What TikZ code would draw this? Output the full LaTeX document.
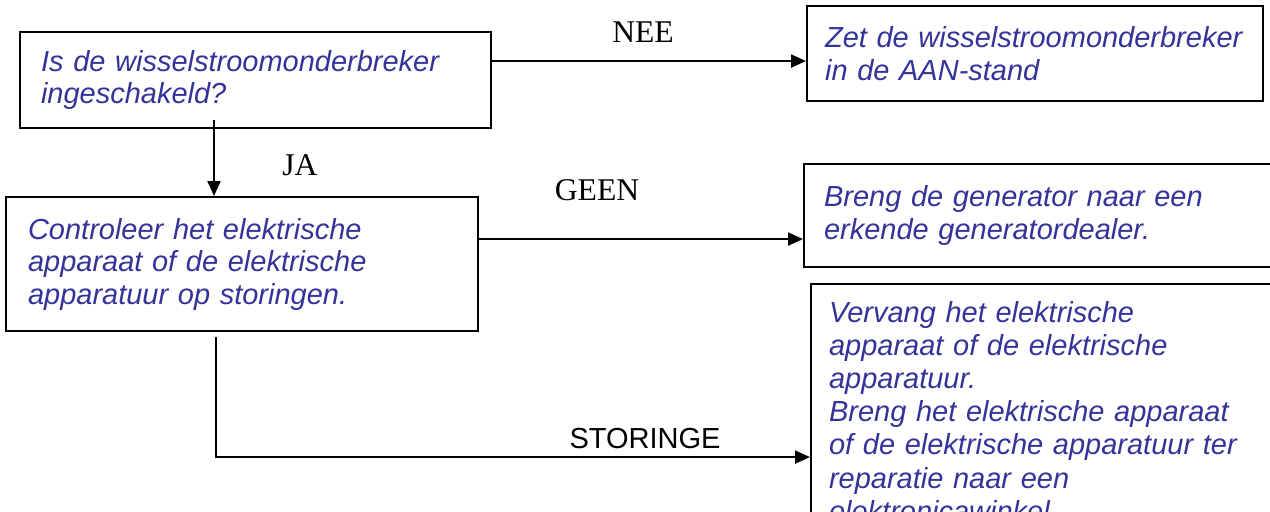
\documentclass[tikz,border=0pt]{standalone}
\usepackage{fontspec}
\setmainfont{Liberation Sans}
\newfontfamily\timesfont{Liberation Serif}
\usepackage{tikz}
\usetikzlibrary{arrows.meta}
\definecolor{tekstblauw}{RGB}{51,51,153}

\begin{document}
\begin{tikzpicture}[x=0.02cm,y=-0.02cm,
    vak/.style={draw, line width=1.2pt, anchor=north west, align=left, text=tekstblauw,
        font=\fontsize{16.5}{18.5}\selectfont\itshape, inner ysep=0pt},
    pijl/.style={line width=1.2pt, -{Triangle[length=0.3cm,width=0.26cm]}},
    antw/.style={font=\timesfont\fontsize{18}{20}\selectfont}]
    \clip (0,0) rectangle (1270,511);
    % vakken
    \node[vak, text width=8.58cm, inner xsep=0.42cm, minimum height=1.92cm] (vraag) at (19,31) {Is de wisselstroomonderbreker\\ingeschakeld?};
    \node[vak, text width=8.4cm, inner xsep=0.36cm, minimum height=1.9cm] (aan) at (806,5) {Zet de wisselstroomonderbreker\\in de AAN-stand};
    \node[vak, text width=8.56cm, inner xsep=0.44cm, minimum height=2.68cm] (controle) at (5,196) {Controleer het elektrische\\apparaat of de elektrische\\apparatuur op storingen.};
    \node[vak, text width=9.2cm, inner xsep=0.4cm, minimum height=2.06cm] (dealer) at (803,163) {Breng de generator naar een\\erkende generatordealer.};
    \node[vak, text width=9.2cm, inner xsep=0.36cm, inner ysep=0.34cm,
        font=\fontsize{16.5}{18.9}\selectfont\itshape] (vervang) at (810,283) {Vervang het elektrische\\apparaat of de elektrische\\apparatuur.\\Breng het elektrische apparaat\\of de elektrische apparatuur ter\\reparatie naar een\\elektronicawinkel.};
    % pijlen
    \coordinate (nee-start) at ([yshift=0.38cm]vraag.east);
    \draw[pijl] (nee-start) -- (nee-start -| aan.west);
    \coordinate (ja-start) at ([shift={(-0.83cm,0.18cm)}]vraag.south);
    \draw[pijl] (ja-start) -- (ja-start |- controle.north);
    \coordinate (geen-start) at ([yshift=0.5cm]controle.east);
    \draw[pijl] (geen-start) -- (geen-start -| dealer.west);
    \coordinate (storing-start) at ([shift={(-0.52cm,-0.1cm)}]controle.south);
    \coordinate (knik) at ([yshift=-2.4cm]storing-start);
    \draw[pijl] (storing-start) -- (knik) -- (knik -| vervang.west);
    % antwoorden
    \node[antw] (nee) at (643,32) {NEE};
    \node[antw] (ja) at (300,165) {JA};
    \node[antw] (geen) at (597,190) {GEEN};
    \node[font=\fontsize{16.5}{18.5}\selectfont, anchor=base] (storing) at (645,448) {STORINGE};
\end{tikzpicture}
\end{document}
